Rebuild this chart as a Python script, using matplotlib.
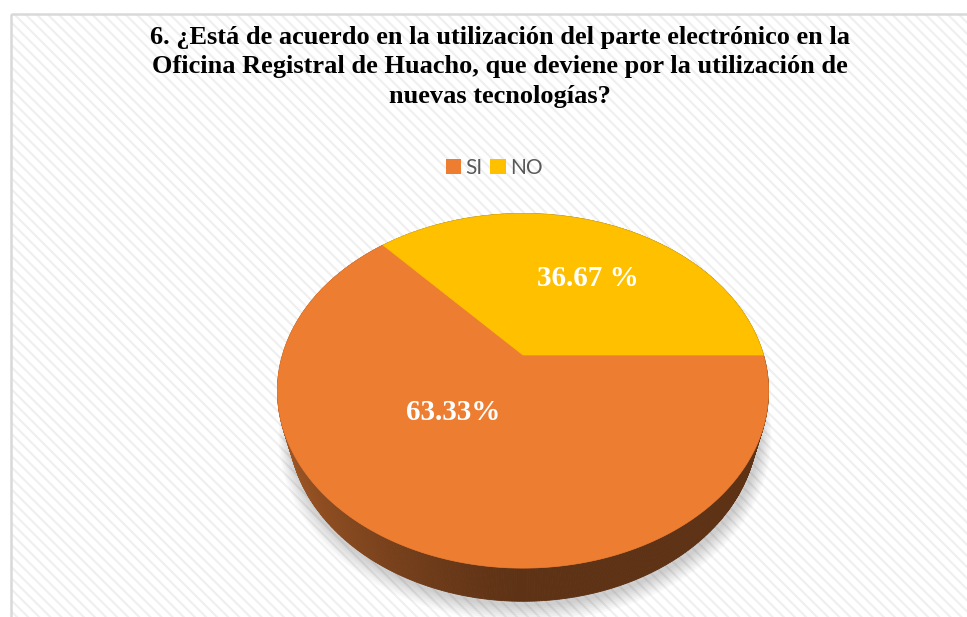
import numpy as np
import matplotlib
matplotlib.use("Agg")
import matplotlib.pyplot as plt
from matplotlib.patches import Polygon, Rectangle, Patch
from matplotlib.colors import to_rgb

# ---------------- data ----------------
categories = ["SI", "NO"]
values = [63.33, 36.67]
label_texts = ["63.33%", "36.67 %"]
title_lines = ["6. ¿Está de acuerdo en la utilización del parte electrónico en la",
               "Oficina Registral de Huacho, que deviene por la utilización de",
               "nuevas tecnologías?"]

# ---------------- style ----------------
top_colors = ["#ED7D31", "#FFC000"]
side_light = ["#A65B27", "#B88A00"]
side_dark = ["#5E3215", "#7A5C00"]
W, H = 967, 617
cx, cy, R = 523, 355, 240.5        # pie centre / radius in pixels
elev = np.radians(45)
D = 3.5                             # perspective distance
thick = 0.22
label_disk = [(-0.273, -0.314), (0.298, 0.494)]
title_baselines = [44, 73.5, 103]

plt.rcParams["hatch.linewidth"] = 1.5

fig = plt.figure(figsize=(W / 100, H / 100), dpi=100)
ax = fig.add_axes([0, 0, 1, 1])
ax.set_xlim(0, W)
ax.set_ylim(H, 0)
ax.axis("off")

# background with diagonal hatch and border
ax.add_patch(Rectangle((10.5, 13.5), W, H, facecolor="white",
                       edgecolor="#EFEFEF", lw=0, hatch="\\\\\\", zorder=0))
ax.add_patch(Rectangle((10.5, 13.5), W, H, facecolor="none",
                       edgecolor="#D9D9D9", lw=1.8, zorder=1))


def proj(X, Y, Z):
    sy = Y * np.sin(elev) + Z * np.cos(elev)
    depth = Y * np.cos(elev) - Z * np.sin(elev)
    f = D / (D + depth)
    return cx + R * X * f, cy - R * sy * f


# slice angles (start at east, clockwise)
total = sum(values)
spans = []
start = 0.0
for v in values:
    a = 360.0 * v / total
    spans.append((start - a, start))
    start -= a

# soft shadow
tt = np.radians(np.linspace(0, 360, 361))
for k in range(8, 0, -1):
    s = 1 + 0.006 * k
    xs, ys = proj(s * np.cos(tt), s * np.sin(tt), -thick)
    ax.add_patch(Polygon(np.column_stack([xs + 2, ys + 3 + k * 0.6]), closed=True,
                         facecolor="#000000", alpha=0.025, lw=0, zorder=2))

# sides
segs = []
for i, (a0, a1) in enumerate(spans):
    ts = np.radians(np.linspace(a0, a1, int(abs(a1 - a0)) * 2 + 2))
    for j in range(len(ts) - 1):
        t0, t1 = ts[j], ts[j + 1]
        tm = 0.5 * (t0 + t1)
        mix = np.clip(-np.cos(tm), 0, 1) ** 1.3
        col = np.array(to_rgb(side_dark[i])) * (1 - mix) + np.array(to_rgb(side_light[i])) * mix
        p = [proj(np.cos(t0), np.sin(t0), 0), proj(np.cos(t1), np.sin(t1), 0),
             proj(np.cos(t1), np.sin(t1), -thick), proj(np.cos(t0), np.sin(t0), -thick)]
        segs.append((np.sin(tm), p, col))
segs.sort(key=lambda s: -s[0])
for _, p, col in segs:
    ax.add_patch(Polygon(p, closed=True, facecolor=col, edgecolor=col, lw=0.6, zorder=3))

# tops
for i, (a0, a1) in enumerate(spans):
    ts = np.radians(np.linspace(a0, a1, 400))
    xs, ys = proj(np.cos(ts), np.sin(ts), 0)
    c = proj(0, 0, 0)
    pts = np.vstack([[c[0], c[1]], np.column_stack([xs, ys])])
    ax.add_patch(Polygon(pts, closed=True, facecolor=top_colors[i],
                         edgecolor=top_colors[i], lw=0.5, zorder=4))

# labels
for i, txt in enumerate(label_texts):
    lx, ly = proj(label_disk[i][0], label_disk[i][1], 0)
    ax.text(lx, ly, txt, ha="center", va="center", color="white",
            fontsize=21, fontweight="bold", family="Liberation Serif", zorder=5)

# title
for line, yb in zip(title_lines, title_baselines):
    ax.text(500, yb, line, ha="center", va="baseline",
            fontsize=19, fontweight="bold", family="Liberation Serif",
            color="black", zorder=5)

# legend
handles = [Patch(facecolor=c, edgecolor="none") for c in top_colors]
leg = fig.legend(handles, categories, loc="center", ncol=2,
                 bbox_to_anchor=(494 / W, 1 - 168 / H), frameon=False,
                 handlelength=0.75, handleheight=0.75, handletextpad=0.2,
                 columnspacing=0.35, prop={"family": "Lato", "size": 15})
for t in leg.get_texts():
    t.set_color("#595959")

fig.savefig("out.png", dpi=100)
